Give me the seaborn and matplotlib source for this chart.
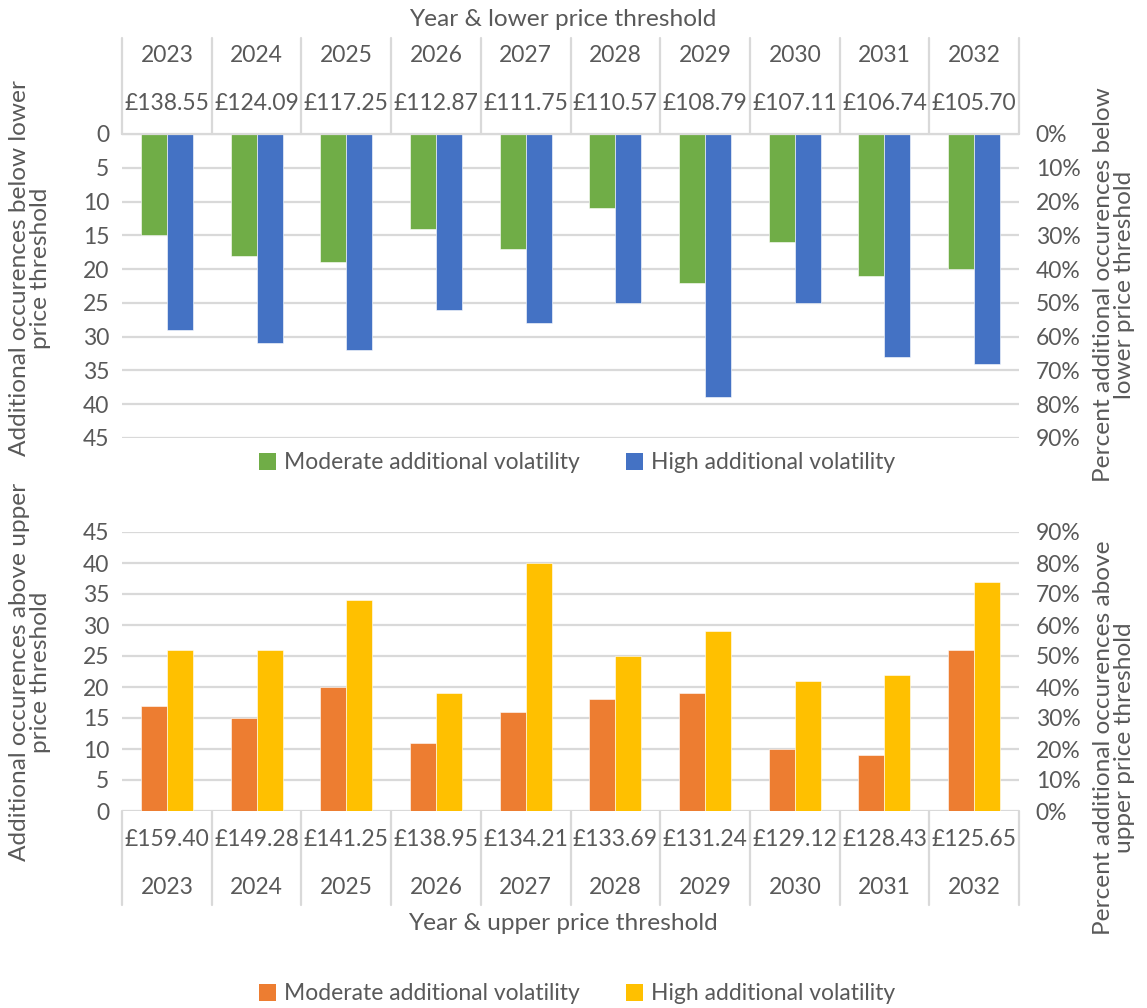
import matplotlib
matplotlib.use("Agg")
import matplotlib.pyplot as plt
import seaborn as sns
import pandas as pd
from matplotlib.patches import Patch
from matplotlib.ticker import PercentFormatter, MultipleLocator

# ---------------- data ----------------
years = ["2023", "2024", "2025", "2026", "2027", "2028", "2029", "2030", "2031", "2032"]
lower_thresholds = ["£138.55", "£124.09", "£117.25", "£112.87", "£111.75",
                    "£110.57", "£108.79", "£107.11", "£106.74", "£105.70"]
upper_thresholds = ["£159.40", "£149.28", "£141.25", "£138.95", "£134.21",
                    "£133.69", "£131.24", "£129.12", "£128.43", "£125.65"]
lower_moderate = [15, 18, 19, 14, 17, 11, 22, 16, 21, 20]
lower_high = [29, 31, 32, 26, 28, 25, 39, 25, 33, 34]
upper_moderate = [17, 15, 20, 11, 16, 18, 19, 10, 9, 26]
upper_high = [26, 26, 34, 19, 40, 25, 29, 21, 22, 37]
series_names = ["Moderate additional volatility", "High additional volatility"]

GREEN, BLUE = "#70AD47", "#4472C4"
ORANGE, YELLOW = "#ED7D31", "#FFC000"
TXT = "#595959"
GRID = "#D9D9D9"

sns.set_theme(style="white")
plt.rcParams['font.family'] = ['Lato', 'DejaVu Sans']
FS = 16.5
FST = 17.6

W, H = 1147, 1008
fig = plt.figure(figsize=(W / 100, H / 100), dpi=100)


def px_axes(left, top, right, bottom):
    return fig.add_axes([left / W, 1 - bottom / H, (right - left) / W, (bottom - top) / H])


def long_df(mod, high):
    return pd.DataFrame({
        "Year": years * 2,
        "Value": list(mod) + list(high),
        "Series": [series_names[0]] * len(years) + [series_names[1]] * len(years),
    })


def style_axes(ax, inverted):
    ax.set_xlim(-0.5, len(years) - 0.5)
    ax.set_ylim((45, 0) if inverted else (0, 45))
    ax.yaxis.set_major_locator(MultipleLocator(5))
    ax.grid(axis="y", color=GRID, lw=1.6)
    ax.grid(axis="x", visible=False)
    ax.set_axisbelow(True)
    for s in ax.spines.values():
        s.set_visible(False)
    ax.set_xticks([])
    ax.set_xlabel("")
    ax.set_ylabel("")
    ax.tick_params(axis="y", length=0, pad=9, labelsize=FS, labelcolor=TXT)
    axr = ax.twinx()
    axr.set_ylim((0.9, 0) if inverted else (0, 0.9))
    axr.yaxis.set_major_locator(MultipleLocator(0.1))
    axr.yaxis.set_major_formatter(PercentFormatter(1.0, decimals=0))
    axr.tick_params(axis="y", length=0, pad=12, labelsize=FS, labelcolor=TXT)
    axr.grid(False)
    for s in axr.spines.values():
        s.set_visible(False)
    return axr


# ---------------- top chart ----------------
ax1 = px_axes(122, 134, 1019, 438)
sns.barplot(data=long_df(lower_moderate, lower_high), x="Year", y="Value", hue="Series",
            palette=[GREEN, BLUE], width=0.58, gap=0, saturation=1, legend=False,
            edgecolor="white", linewidth=0.4, ax=ax1)
style_axes(ax1, inverted=True)
tr1 = ax1.get_xaxis_transform()
h1 = 438 - 134
for i in range(len(years) + 1):
    ax1.plot([i - 0.5, i - 0.5], [1.0, 1 + (134 - 38) / h1], transform=tr1,
             color=GRID, lw=1.6, clip_on=False)
ax1.plot([-0.5, len(years) - 0.5], [1.0, 1.0], transform=tr1, color=GRID, lw=1.6, clip_on=False)
for i, (y, p) in enumerate(zip(years, lower_thresholds)):
    ax1.text(i, 1 + (134 - 56) / h1, y, transform=tr1, ha="center", va="center",
             fontsize=FS, color=TXT)
    ax1.text(i, 1 + (134 - 103) / h1, p, transform=tr1, ha="center", va="center",
             fontsize=FS, color=TXT)
fig.text(563 / W, 1 - 19 / H, "Year & lower price threshold", ha="center", va="center",
         fontsize=FST, color=TXT)

# ---------------- bottom chart ----------------
ax2 = px_axes(122, 532, 1019, 811)
sns.barplot(data=long_df(upper_moderate, upper_high), x="Year", y="Value", hue="Series",
            palette=[ORANGE, YELLOW], width=0.58, gap=0, saturation=1, legend=False,
            edgecolor="white", linewidth=0.4, ax=ax2)
style_axes(ax2, inverted=False)
tr2 = ax2.get_xaxis_transform()
h2 = 811 - 532
for i in range(len(years) + 1):
    ax2.plot([i - 0.5, i - 0.5], [0.0, -(905 - 811) / h2], transform=tr2,
             color=GRID, lw=1.6, clip_on=False)
for i, (y, p) in enumerate(zip(years, upper_thresholds)):
    ax2.text(i, -(840 - 811) / h2, p, transform=tr2, ha="center", va="center",
             fontsize=FS, color=TXT)
    ax2.text(i, -(887 - 811) / h2, y, transform=tr2, ha="center", va="center",
             fontsize=FS, color=TXT)
fig.text(563 / W, 1 - 924 / H, "Year & upper price threshold", ha="center", va="center",
         fontsize=FST, color=TXT)

# ---------------- axis titles ----------------
kw = dict(rotation=90, ha="center", va="center", multialignment="center",
          fontsize=FST, color=TXT, linespacing=1.0)
fig.text(30 / W, 1 - 268 / H, "Additional occurences below lower\nprice threshold", **kw)
fig.text(30 / W, 1 - 672 / H, "Additional occurences above upper\nprice threshold", **kw)
fig.text(1114 / W, 1 - 285 / H, "Percent additional occurences below\nlower price threshold", **kw)
fig.text(1114 / W, 1 - 738 / H, "Percent additional occurences above\nupper price threshold", **kw)

# ---------------- legends ----------------
def add_legend(colors, ypx):
    handles = [Patch(facecolor=c, edgecolor="none") for c in colors]
    fig.legend(handles, series_names, loc="center", bbox_to_anchor=(577 / W, 1 - ypx / H),
               ncol=2, frameon=False, fontsize=FS, labelcolor=TXT,
               handlelength=0.75, handleheight=0.75, handletextpad=0.35, columnspacing=2.0)


add_legend([GREEN, BLUE], 463)
add_legend([ORANGE, YELLOW], 994)

fig.savefig("out.png", dpi=100, facecolor="white")
